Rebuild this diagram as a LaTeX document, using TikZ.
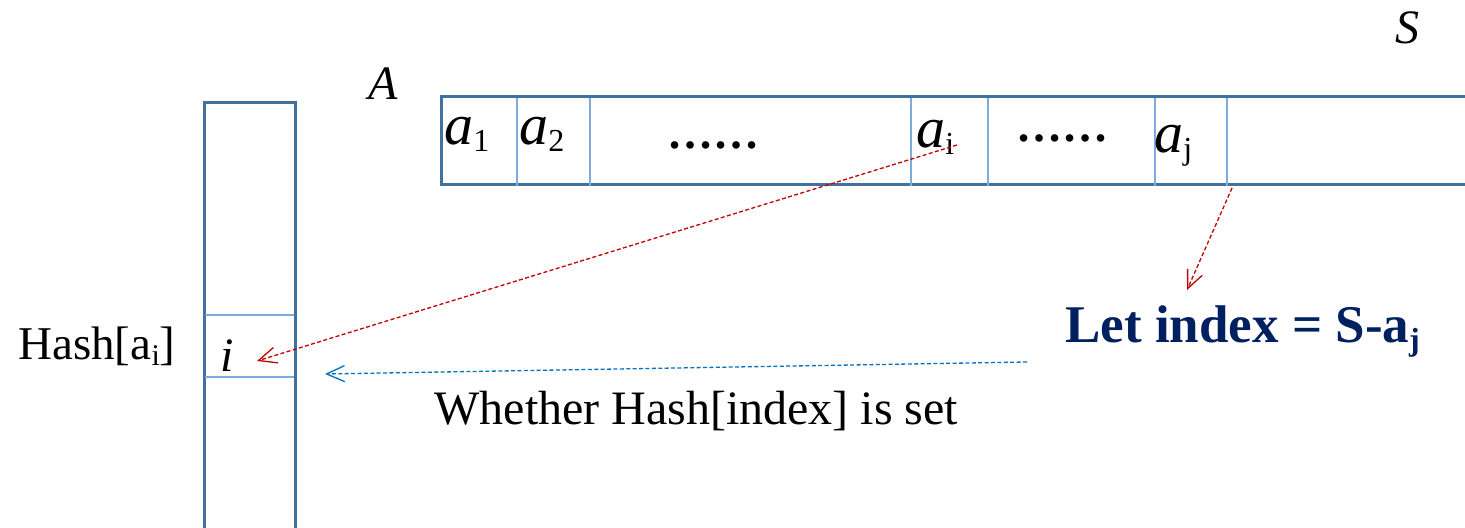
\documentclass[tikz,border=0pt]{standalone}
\usepackage{fontspec}
\setmainfont{Liberation Serif}
\usetikzlibrary{arrows.meta}
\definecolor{boxblue}{HTML}{41719C}
\definecolor{celline}{HTML}{7FAADC}
\definecolor{linkred}{HTML}{C00000}
\definecolor{linkblue}{HTML}{0070C0}
\definecolor{navy}{HTML}{002060}
\newcommand{\elem}[1]{\textit{a}\raisebox{-0.12em}{\fontsize{16}{16}\selectfont #1}}
\newcommand{\fsz}[1]{\fontsize{#1}{#1}\selectfont}

\begin{document}
\begin{tikzpicture}[x=0.5pt,y=-0.5pt,
  every node/.style={inner sep=0pt},
  outerbox/.style={draw=boxblue,line width=1.5pt},
  cellline/.style={draw=celline,line width=0.6pt},
  hashlink/.style={dash pattern=on 2pt off 1.2pt,line width=0.65pt,
    -{Straight Barb[length=9pt,width=8pt]}}]
\useasboundingbox (0,0) rectangle (1465,528);
\begin{scope}
\clip (0,0) rectangle (1465,528);
% array A
\draw[outerbox] (441,97) rectangle (1480,185);
\foreach \x in {517,590,911,988,1155,1227}
  \draw[cellline] (\x,98) -- (\x,186);
% hash table
\draw[outerbox] (204,103) rectangle (295,540);
\foreach \y in {315,377}
  \draw[cellline] (205,\y) -- (294,\y);
\end{scope}
% labels
\node[font=\fsz{24}\itshape] (lblA) at (383,84) {A};
\node[font=\fsz{24}\itshape] (lblS) at (1407,28) {S};
\node[font=\fsz{29},anchor=base west] (a1) at (444,145) {\elem{1}};
\node[font=\fsz{29},anchor=base west] (a2) at (519,145) {\elem{2}};
\node[font=\fsz{23}\bfseries,anchor=base] (dotsL) at (713,149) {……};
\node[font=\fsz{29},anchor=base west] (ai) at (916,148) {\elem{i}};
\node[font=\fsz{23}\bfseries,anchor=base] (dotsR) at (1062,142) {……};
\node[font=\fsz{29},anchor=base west] (aj) at (1154,153) {\elem{j}};
\node[font=\fsz{24}\itshape,anchor=base] (hi) at (227,372) {i};
\node[font=\fsz{23.5},anchor=base west] (hashAi) at (18,360)
  {Hash[a\raisebox{-0.12em}{\fsz{15}i}]};
\node[font=\fsz{26.5}\bfseries,text=navy,anchor=base west] (letIdx) at (1065,343)
  {Let index = S-a\raisebox{-0.15em}{\fsz{16}j}};
\node[font=\fsz{24},anchor=base west] (whether) at (434,425) {Whether Hash[index] is set};
% connectors
\coordinate (aiTail) at (957,145);
\coordinate (hiTip) at (257,361);
\coordinate (ajTail) at (1232,188);
\coordinate (letTip) at (1187,290);
\coordinate (chkTail) at (1027,362);
\coordinate (chkTip) at (325,374);
\draw[hashlink,linkred] (aiTail) -- (hiTip);
\draw[hashlink,linkred] (ajTail) -- (letTip);
\draw[hashlink,linkblue] (chkTail) -- (chkTip);
\end{tikzpicture}
\end{document}
